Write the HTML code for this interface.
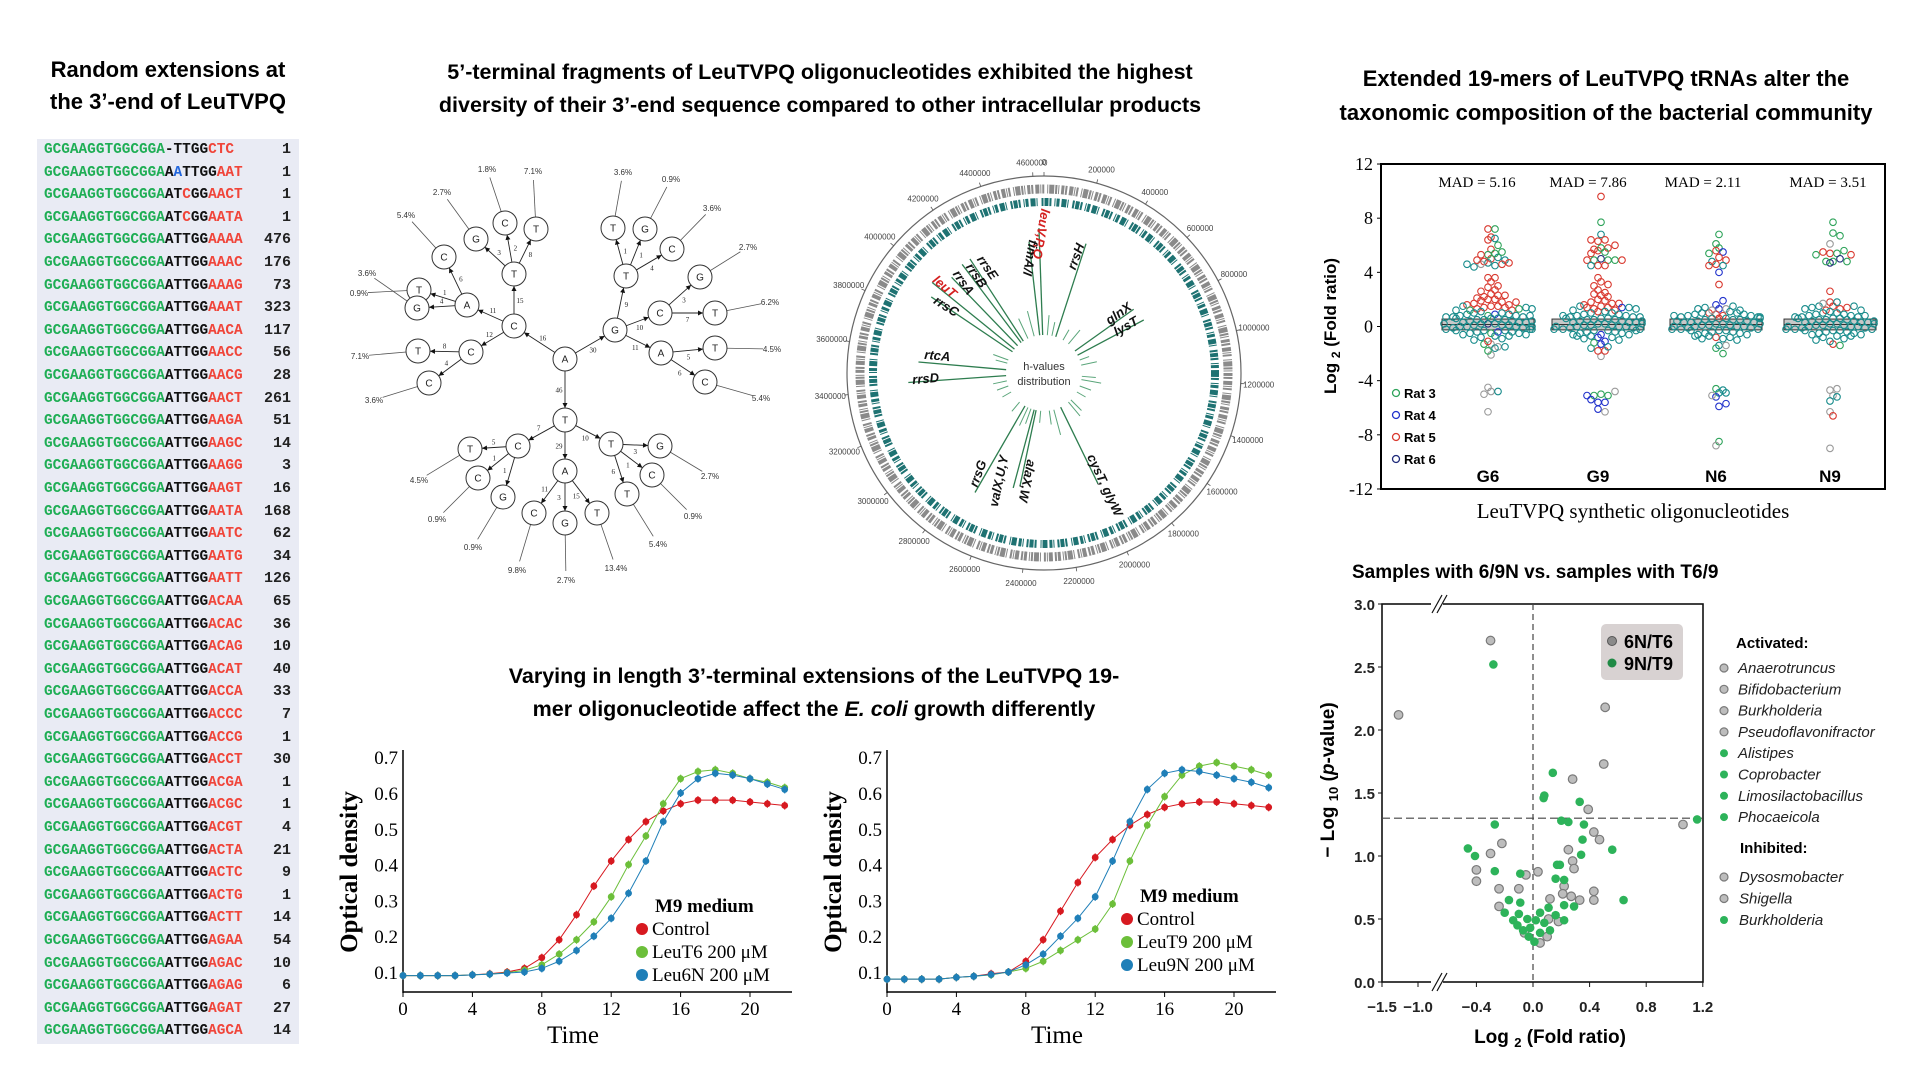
<!DOCTYPE html>
<html><head><meta charset="utf-8"><title>LeuTVPQ figure</title>
<style>
html,body{margin:0;padding:0;background:#fff;}
#root{position:relative;width:1920px;height:1080px;overflow:hidden;background:#fff;font-family:"Liberation Sans",sans-serif;}
.ttl{position:absolute;font-weight:bold;color:#000;text-align:center;white-space:nowrap;}
#seqtable{position:absolute;left:37px;top:139px;width:262px;height:905px;background:#e9ebf4;}
.row{position:absolute;left:7px;height:22px;line-height:22px;font-family:"Liberation Mono",monospace;font-weight:bold;font-size:14.4px;white-space:nowrap;}
.cnt{position:absolute;right:8px;height:22px;line-height:22px;font-family:"Liberation Mono",monospace;font-weight:bold;font-size:15px;color:#222;}
.gr{color:#1fae55}.rd{color:#f0453a}.bk{color:#111}.bl{color:#2266dd}
svg{position:absolute;left:0;top:0;}
</style></head>
<body>
<div id="root">
<div class="ttl" style="left:28px;top:54px;width:280px;font-size:22px;line-height:32px;">Random extensions at<br>the 3’-end of LeuTVPQ</div>
<div class="ttl" style="left:380px;top:56px;width:880px;font-size:21.5px;line-height:33px;">5’-terminal fragments of LeuTVPQ oligonucleotides exhibited the highest<br>diversity of their 3’-end sequence compared to other intracellular products</div>
<div class="ttl" style="left:1300px;top:62px;width:612px;font-size:22px;line-height:34px;">Extended 19-mers of LeuTVPQ tRNAs alter the<br>taxonomic composition of the bacterial community</div>
<div class="ttl" style="left:414px;top:660px;width:800px;font-size:21.5px;line-height:33px;">Varying in length 3’-terminal extensions of the LeuTVPQ 19-<br>mer oligonucleotide affect the <i>E. coli</i> growth differently</div>
<div class="ttl" style="left:1352px;top:561px;font-size:19px;line-height:24px;text-align:left;">Samples with 6/9N vs. samples with T6/9</div>
<div id="seqtable"></div>
<svg id="chart" width="1920" height="1080" viewBox="0 0 1920 1080"></svg>
</div>
<script>
// ===== Sequence table data =====
const seqSuffixes = ["AAAA","AAAC","AAAG","AAAT","AACA","AACC","AACG","AACT","AAGA","AAGC","AAGG","AAGT","AATA","AATC","AATG","AATT","ACAA","ACAC","ACAG","ACAT","ACCA","ACCC","ACCG","ACCT","ACGA","ACGC","ACGT","ACTA","ACTC","ACTG","ACTT","AGAA","AGAC","AGAG","AGAT","AGCA"];
const seqCounts = [476,176,73,323,117,56,28,261,51,14,3,16,168,62,34,126,65,36,10,40,33,7,1,30,1,1,4,21,9,1,14,54,10,6,27,14];
const specialRows = [
 '<span class="gr">GCGAAGGTGGCGGA</span><span class="bk">-TTGG</span><span class="rd">CTC</span>',
 '<span class="gr">GCGAAGGTGGCGGA</span><span class="bk">A</span><span class="bl">A</span><span class="bk">TTGG</span><span class="rd">AAT</span>',
 '<span class="gr">GCGAAGGTGGCGGA</span><span class="bk">AT</span><span class="rd">C</span><span class="bk">GG</span><span class="rd">AACT</span>',
 '<span class="gr">GCGAAGGTGGCGGA</span><span class="bk">AT</span><span class="rd">C</span><span class="bk">GG</span><span class="rd">AATA</span>'];
const specialCounts = [1,1,1,1];
(function(){
  const tb = document.getElementById('seqtable');
  const rows = specialRows.map((h,i)=>[h,specialCounts[i]]);
  seqSuffixes.forEach((s,i)=>rows.push(['<span class="gr">GCGAAGGTGGCGGA</span><span class="bk">ATTGG</span><span class="rd">'+s+'</span>', seqCounts[i]]));
  rows.forEach((r,i)=>{
    const d=document.createElement('div');
    d.className='row'; d.style.top=(i*22.6)+'px'; d.innerHTML=r[0];
    
    
    tb.appendChild(d);
    const c=document.createElement('div');
    c.className='cnt'; c.style.top=(i*22.6)+'px'; c.textContent=r[1];
    
    
    tb.appendChild(c);
  });
})();

const svg = document.getElementById('chart');
const NS = 'http://www.w3.org/2000/svg';
function mk(tag, attrs, parent){ const e=document.createElementNS(NS,tag); for(const k in attrs) e.setAttribute(k,attrs[k]); (parent||svg).appendChild(e); return e; }
function txt(x,y,s,attrs,parent){ const e=mk('text',Object.assign({x:x,y:y},attrs),parent); e.textContent=s; return e; }

// ===== Tree diagram =====
const treeLetters = ["A","G","C","T","T","A","C","G","C","T","T","G","C","T","C","T","C","A","T","G","C","G","T","T","C","C","A","T","T","C","G","C","G","T","G","C","T"];
const treeX = [565,615,514,565,514,467,471,476,505,536,419,417,444,418,429,626,660,661,613,645,672,700,715,715,705,518,565,611,470,478,503,534,565,597,660,652,627];
const treeY = [359,330,326,420,274,305,352,239,223,229,290,308,257,351,383,276,313,353,228,229,249,277,313,348,382,446,471,444,449,478,497,513,523,513,446,475,494];
const edgeFrom = [0,0,0,2,2,2,4,4,4,5,5,5,6,6,1,1,1,15,15,15,16,16,17,17,3,3,3,25,25,25,26,26,26,27,27,27];
const edgeTo   = [1,2,3,4,5,6,7,8,9,10,11,12,13,14,15,16,17,18,19,20,21,22,23,24,25,26,27,28,29,30,31,32,33,34,35,36];
const edgeCounts = [30,16,46,15,11,12,3,2,8,1,4,6,8,4,9,10,11,1,1,4,3,7,5,6,7,29,10,5,1,1,11,3,15,3,1,6];
const leafIds = [7,8,9,12,10,11,13,14,18,19,20,21,22,23,24,28,29,30,31,32,33,36,35,34];
const leafPct = ["2.7%","1.8%","7.1%","5.4%","0.9%","3.6%","7.1%","3.6%","3.6%","0.9%","3.6%","2.7%","6.2%","4.5%","5.4%","4.5%","0.9%","0.9%","9.8%","2.7%","13.4%","5.4%","0.9%","2.7%"];
const leafLX = [442,487,533,406,359,367,360,374,623,671,712,748,770,772,761,419,437,473,517,566,616,658,693,710];
const leafLY = [192,169,171,215,293,273,356,400,172,179,208,247,302,349,398,480,519,547,570,580,568,544,516,476];
(function(){
  const g=mk('g',{});
  
  
  leafIds.forEach((id,i)=>{
    const x0=treeX[id], y0=treeY[id], dx=leafLX[i]-x0, dy=leafLY[i]-y0, L=Math.hypot(dx,dy);
    const f=(L-9)/L;
    const ln=mk('line',{x1:x0,y1:y0,x2:x0+dx*f,y2:y0+dy*f,stroke:'#555','stroke-width':0.8},g);
    
    const t=txt(leafLX[i],leafLY[i]+3,leafPct[i],{'font-size':8,'text-anchor':'middle',fill:'#333'},g);
    
  });
  edgeFrom.forEach((a,i)=>{
    const b=edgeTo[i]; const x1=treeX[a],y1=treeY[a],x2=treeX[b],y2=treeY[b];
    const L=Math.hypot(x2-x1,y2-y1), ux=(x2-x1)/L, uy=(y2-y1)/L;
    const ex=x2-ux*12, ey=y2-uy*12;
    const e=mk('line',{x1:x1+ux*12,y1:y1+uy*12,x2:ex,y2:ey,stroke:'#222','stroke-width':0.9},g);
    
    const ah=mk('polygon',{points:`${ex},${ey} ${ex-ux*5-uy*2.5},${ey-uy*5+ux*2.5} ${ex-ux*5+uy*2.5},${ey-uy*5-ux*2.5}`,fill:'#111'},g);
    
    const lb=txt((x1+x2)/2-uy*6,(y1+y2)/2+ux*6+3,String(edgeCounts[i]),{'font-size':7,'text-anchor':'middle',fill:'#222','font-family':'Liberation Serif, serif'},g);
    
  });
  treeLetters.forEach((l,i)=>{
    const c=mk('circle',{cx:treeX[i],cy:treeY[i],r:12,fill:'#fff',stroke:'#333','stroke-width':1},g);
    
    const t=txt(treeX[i],treeY[i]+3.5,l,{'font-size':10,'text-anchor':'middle',fill:'#222'},g);
    
  });
})();

// ===== Circular genome plot =====
const genomeTicks = [0,200000,400000,600000,800000,1000000,1200000,1400000,1600000,1800000,2000000,2200000,2400000,2600000,2800000,3000000,3200000,3400000,3600000,3800000,4000000,4200000,4400000,4600000];
const geneNames = ["leuV,P,Q","fimA/I","rrsH","rrsE","rrsB","rrsA","leuT","rrsC","glnX","lysT","rtcA","rrsD","rrsG","valX,U,Y","alaX,W","cysT, glyW"];
const geneAngle = [358,353.5,18,327,323,316,309,304,54.6,62,275,266,210,195,192,154];
const geneLen = [107,94,98,98,98,95,106,98,72,75,88,98,100,81,78,85];
const geneLabelX = [1037,1026,1080,984,973,960,942,944,1121,1128,937,926,982,1003,1023,1101];
const geneLabelY = [233,257,258,270,278,285,290,310,317,330,360,383,475,482,480,487];
const geneLabelRot = [100,100,-70,55,55,55,40,33,-35,-30,5,-5,-70,-78,102,65];
const geneRed = [1,0,0,0,0,0,1,0,0,0,0,0,0,0,0,0];
const minorAngles = [5,12,30,40,70,78,95,100,110,120,135,140,165,172,185,200,205,220,240,250,258,285,290,335,345];
const minorLens = [20,14,12,18,10,16,14,20,12,10,15,18,26,14,12,16,20,12,10,12,14,12,16,22,26];
(function(){
  const cx=1044, cy=373, R=197, G=4641652;
  const g=mk('g',{});
  
  
  const oc=mk('circle',{cx:cx,cy:cy,r:R,fill:'none',stroke:'#666','stroke-width':1.2},g);
  
  const gr=mk('circle',{cx:cx,cy:cy,r:184,fill:'none',stroke:'#8a8a8a','stroke-width':9,'stroke-dasharray':'3 1 2 2 4 1 1 1 2 3 1 1 5 1 2 1 1 2'},g);
  
  const tr=mk('circle',{cx:cx,cy:cy,r:171,fill:'none',stroke:'#1e7272','stroke-width':8,'stroke-dasharray':'4 1 2 3 1 1 3 2 5 1 1 4 2 1'},g);
  
  genomeTicks.forEach(v=>{
    const a=v/G*2*Math.PI, s=Math.sin(a), c=-Math.cos(a);
    const tk=mk('line',{x1:cx+s*R,y1:cy+c*R,x2:cx+s*(R+4),y2:cy+c*(R+4),stroke:'#555','stroke-width':0.8},g);
    
    const t=txt(cx+s*(R+18),cy+c*(R+14)+3,String(v),{'font-size':8,'text-anchor':'middle',fill:'#444'},g);
    
  });
  minorAngles.forEach((d,i)=>{
    const a=d*Math.PI/180, s=Math.sin(a), c=-Math.cos(a);
    const l=mk('line',{x1:cx+s*38,y1:cy+c*38,x2:cx+s*(38+minorLens[i]),y2:cy+c*(38+minorLens[i]),stroke:'#5aa57a','stroke-width':1},g);
    
  });
  geneAngle.forEach((d,i)=>{
    const a=d*Math.PI/180, s=Math.sin(a), c=-Math.cos(a);
    const l=mk('line',{x1:cx+s*38,y1:cy+c*38,x2:cx+s*(38+geneLen[i]),y2:cy+c*(38+geneLen[i]),stroke:'#2e7d4f','stroke-width':1.3},g);
    
    const t=txt(geneLabelX[i],geneLabelY[i],geneNames[i],{'font-size':13,'font-style':'italic','font-weight':'bold','text-anchor':'middle',fill:geneRed[i]?'#d42020':'#111',transform:`rotate(${geneLabelRot[i]} ${geneLabelX[i]} ${geneLabelY[i]})`},g);
    
  });
  const h1=txt(cx,cy-3,'h-values',{'font-size':11,'text-anchor':'middle',fill:'#333'},g);
  
  const h2=txt(cx,cy+12,'distribution',{'font-size':11,'text-anchor':'middle',fill:'#333'},g);
  
})();

// ===== Growth curves =====
const hours = [0,1,2,3,4,5,6,7,8,9,10,11,12,13,14,15,16,17,18,19,20,21,22];
const ctrl1 = [0.09,0.09,0.09,0.09,0.092,0.095,0.10,0.11,0.14,0.19,0.26,0.34,0.41,0.47,0.52,0.55,0.57,0.58,0.58,0.58,0.575,0.57,0.565];
const leuT6 = [0.09,0.09,0.09,0.09,0.092,0.094,0.098,0.105,0.12,0.15,0.19,0.24,0.31,0.40,0.48,0.57,0.64,0.66,0.665,0.655,0.64,0.63,0.615];
const leu6N = [0.09,0.09,0.09,0.09,0.092,0.094,0.097,0.10,0.11,0.13,0.16,0.20,0.25,0.32,0.41,0.52,0.60,0.64,0.655,0.65,0.64,0.625,0.61];
const ctrl2 = [0.08,0.08,0.08,0.08,0.085,0.088,0.095,0.10,0.13,0.19,0.27,0.35,0.42,0.47,0.51,0.54,0.56,0.57,0.575,0.575,0.57,0.565,0.56];
const leuT9 = [0.08,0.08,0.08,0.08,0.085,0.088,0.092,0.10,0.11,0.13,0.16,0.19,0.22,0.29,0.41,0.51,0.59,0.65,0.675,0.685,0.675,0.665,0.65];
const leu9N = [0.08,0.08,0.08,0.08,0.085,0.088,0.093,0.10,0.12,0.15,0.20,0.25,0.31,0.41,0.52,0.61,0.655,0.665,0.66,0.65,0.64,0.63,0.615];
const odTicks = [0.1,0.2,0.3,0.4,0.5,0.6,0.7];
const timeTicks = [0,4,8,12,16,20];
function growthChart(x0, series, colors, names, legX, legY, tag){
  const g=mk('g',{});
  
  
  const sx=h=>x0+h*17.35, sy=v=>972-(v-0.1)*358;
  const ya=mk('line',{x1:x0,y1:750,x2:x0,y2:993,stroke:'#000','stroke-width':1.5},g);
  
  const xa=mk('line',{x1:x0,y1:992,x2:x0+389,y2:992,stroke:'#000','stroke-width':1.5},g);
  
  odTicks.forEach(v=>{
    const t=txt(x0-5,sy(v)+7,v.toFixed(1),{'font-size':19,'text-anchor':'end','font-family':'Liberation Serif, serif'},g);
    
  });
  timeTicks.forEach(h=>{
    const tk=mk('line',{x1:sx(h),y1:992,x2:sx(h),y2:997,stroke:'#000'},g);
    
    const t=txt(sx(h),1015,String(h),{'font-size':19,'text-anchor':'middle','font-family':'Liberation Serif, serif'},g);
    
  });
  const yl=txt(0,0,'Optical density',{'font-size':25,'font-weight':'bold','text-anchor':'middle','font-family':'Liberation Serif, serif',transform:`translate(${x0-46},872) rotate(-90)`},g);
  
  const xl=txt(x0+170,1043,'Time',{'font-size':25,'text-anchor':'middle','font-family':'Liberation Serif, serif'},g);
  
  series.forEach((s,k)=>{
    const pl=mk('polyline',{points:s.map((v,i)=>sx(hours[i])+','+sy(v)).join(' '),fill:'none',stroke:colors[k],'stroke-width':1},g);
    
    s.forEach((v,i)=>{
      const eb=mk('line',{x1:sx(hours[i]),y1:sy(v)-4,x2:sx(hours[i]),y2:sy(v)+4,stroke:colors[k],'stroke-width':1.2},g);
      
      const c=mk('circle',{cx:sx(hours[i]),cy:sy(v),r:3.4,fill:colors[k]},g);
      
    });
  });
  const lt=txt(legX+13,legY,'M9 medium',{'font-size':19,'font-weight':'bold','font-family':'Liberation Serif, serif'},g);
  
  names.forEach((n,k)=>{
    const y=legY+23*(k+1);
    const c=mk('circle',{cx:legX,cy:y-6,r:6,fill:colors[k]},g);
    
    const t=txt(legX+10,y,n,{'font-size':19,'font-family':'Liberation Serif, serif'},g);
    
  });
}
growthChart(403,[ctrl1,leuT6,leu6N],['#d71920','#6cbf3a','#1f7fb8'],['Control','LeuT6 200 μM','Leu6N 200 μM'],642,912,'growth-chart-6');
growthChart(887,[ctrl2,leuT9,leu9N],['#d71920','#6cbf3a','#1f7fb8'],['Control','LeuT9 200 μM','Leu9N 200 μM'],1127,902,'growth-chart-9');

// ===== Fold-ratio scatter =====
const groupNames = ["G6","G9","N6","N9"];
const madLabels = ["MAD = 5.16","MAD = 7.86","MAD = 2.11","MAD = 3.51"];
const foldTicks = [12,8,4,0,-4,-8,-12];
const coreValues = [1.5,1.4,1.2,1.1,1.0,1.0,0.9,0.9,0.8,0.8,0.7,0.7,0.6,0.6,0.5,0.5,0.5,0.4,0.4,0.3,0.3,0.3,0.2,0.2,0.1,0.1,0.1,0.0,0.0,0.0,-0.1,-0.1,-0.2,-0.2,-0.3,-0.3,-0.4,-0.4,-0.5,-0.5,-0.6,-0.6,-0.7,-0.8,-0.9,-1.0,1.3,0.6,-0.7,0.0,0.4,0.8,-0.3,0.2,-0.2,0.7];
const g6Values = [5.7,7.2,7.2,6.6,6.4,6.0,6.5,5.0,5.1,5.3,5.4,5.3,4.7,4.5,4.8,4.6,4.9,4.6,4.4,4.7,4.6,5.5,4.9,3.6,3.6,3.3,3.0,2.9,2.7,2.6,2.4,2.3,2.2,2.3,2.1,2.0,2.0,1.9,1.8,1.7,1.6,1.5,1.5,1.4,1.4,1.3,1.2,1.6,1.8,1.2,0.8,-0.5,1.3,0.9,-0.4,0.2,-1.3,-2.1,-1.5,-1.8,-1.3,-1.1,-1.5,-1.6,-4.8,-4.8,-5.0,-4.5,-6.3];
const g6Rats   = "rrgrrgtrtggrttrktrtrtgrrrrrrrrrrrrrrrrrrrrrrrrrrrggggbbnkkkggrttktkkk";
const g9Values = [9.6,7.7,6.8,6.3,5.6,5.8,5.8,6.4,6.4,5.7,5.5,6.0,5.4,5.0,4.9,4.9,4.9,4.9,4.5,4.5,4.5,4.9,3.6,3.3,3.1,3.0,2.7,2.5,2.3,2.2,2.0,1.9,1.8,1.7,1.6,1.5,1.4,1.3,1.2,1.7,2.4,1.4,1.1,-0.8,-1.1,-1.3,-0.6,1.4,-2.2,-1.8,-1.8,-1.5,-1.6,-1.2,-5.0,-5.1,-5.1,-4.8,-5.1,-5.6,-6.1,-5.6,-5.4,-6.3];
const g9Rats   = "rgtrrgrrrrgrrngggrrrtrrrrrrrrrrrrrrrrrrrrrrbbbbbkrrttggggkbbbbbk";
const n6Values = [6.8,5.8,6.1,5.6,5.5,5.1,4.9,5.4,4.8,4.6,4.5,4.0,4.5,3.1,1.6,1.9,1.3,0.9,0.6,0.8,1.0,1.3,1.2,-0.8,-1.6,-1.4,-1.4,-2.0,-0.9,-4.6,-4.9,-4.9,-5.2,-5.9,-5.7,-5.1,-8.5,-8.8,-4.7];
const n6Rats   = "gggrbrrgtrtbrrbbbrrrrkkrgtkgtgttbbbkgkt";
const n9Values = [7.7,6.9,6.1,6.7,5.4,5.4,4.8,4.7,5.0,4.8,5.5,5.6,4.8,5.3,5.3,2.6,1.8,1.5,1.3,1.2,1.4,1.8,1.5,1.7,-1.3,-1.4,-1.1,-4.7,-5.1,-5.5,-5.2,-4.6,-6.3,-6.6,-9.0];
const n9Rats   = "ggkgrggnngrgggrrrrrrrttkrgtkkttkkrk";
(function(){
  const X0=1381,X1=1885,Y0=164,Y1=489;
  const sy=v=>326.5-v*13.54;
  const centers=[1488,1598,1716,1830];
  const col={r:'#d9392f',g:'#2ea35a',b:'#2233cc',n:'#1e2a7a',k:'#9a9a9a',t:'#178b8b'};
  const g=mk('g',{});
  
  
  const fr=mk('rect',{x:X0,y:Y0,width:X1-X0,height:Y1-Y0,fill:'#fff',stroke:'#000','stroke-width':2},g);
  
  foldTicks.forEach(v=>{
    const t=txt(X0-8,sy(v)+6,String(v),{'font-size':18,'text-anchor':'end','font-family':'Liberation Serif, serif'},g);
    
    const tk=mk('line',{x1:X0-4,y1:sy(v),x2:X0,y2:sy(v),stroke:'#000'},g);
    
  });
  const yl=txt(0,0,'Log',{'font-size':17,'font-weight':'bold','text-anchor':'middle',transform:'translate(1336,326) rotate(-90)'},g);
  yl.textContent='';
  const ts1=mk('tspan',{},yl); ts1.textContent='Log ';
  const ts2=mk('tspan',{'font-size':12,dy:4},yl); ts2.textContent='2';
  const ts3=mk('tspan',{dy:-4},yl); ts3.textContent=' (Fold ratio)';
  
  const xl=txt(1633,518,'LeuTVPQ synthetic oligonucleotides',{'font-size':21,'text-anchor':'middle','font-family':'Liberation Serif, serif'},g);
  
  const vals=[g6Values,g9Values,n6Values,n9Values], rats=[g6Rats,g9Rats,n6Rats,n9Rats];
  centers.forEach((cx,gi)=>{
    const bx=mk('rect',{x:cx-46,y:sy(0.55),width:92,height:sy(-0.25)-sy(0.55),fill:'#c8c8c8',stroke:'#333','stroke-width':1},g);
    
    const md=mk('line',{x1:cx-46,y1:sy(0.15),x2:cx+46,y2:sy(0.15),stroke:'#333'},g);
    
    const pts=[];
    vals[gi].forEach((v,i)=>pts.push([v,rats[gi][i]]));
    coreValues.forEach(v=>pts.push([v,'t']));
    const bins={};
    pts.forEach(p=>{
      const b=Math.round(p[0]/0.45); bins[b]=(bins[b]||0)+1; const k=bins[b]-1;
      const off=(k%2?1:-1)*Math.ceil(k/2)*7 + (b%2?3:0);
      const c=mk('circle',{cx:cx+Math.max(-44,Math.min(44,off)),cy:sy(p[0]),r:3.3,fill:'none',stroke:col[p[1]],'stroke-width':1.1},g);
      
    });
    const ml=txt(madLabels[gi]?[1477,1588,1703,1828][gi]:cx,187,madLabels[gi],{'font-size':15,'text-anchor':'middle','font-family':'Liberation Serif, serif'},g);
    
    const cl=txt(cx,482,groupNames[gi],{'font-size':17,'font-weight':'bold','text-anchor':'middle'},g);
    
  });
  ['Rat 3','Rat 4','Rat 5','Rat 6'].forEach((n,i)=>{
    const y=393+i*22;
    const c=mk('circle',{cx:1396,cy:y,r:3.5,fill:'none',stroke:[col.g,col.b,col.r,col.n][i],'stroke-width':1.3},g);
    
    const t=txt(1404,y+5,n,{'font-size':13,'font-weight':'bold'},g);
    
  });
})();

// ===== Volcano plot =====
const grayFC = [-0.30,-1.27,0.51,0.50,0.28,0.39,0.43,0.47,1.06,-0.22,-0.30,-0.40,-0.40,0.25,0.28,0.29,0.035,-0.05,-0.24,-0.10,0.22,0.21,0.43,0.43,0.33,0.27,0.12,-0.24,0.11,0.18,0.10,-0.06,0.05];
const grayP  = [2.71,2.12,2.18,1.73,1.61,1.37,1.19,1.13,1.25,1.10,1.02,0.89,0.80,1.05,0.96,0.90,0.875,0.85,0.74,0.74,0.76,0.70,0.72,0.65,0.65,0.68,0.66,0.60,0.50,0.48,0.36,0.39,0.31];
const greenFC = [-0.28,0.14,0.075,0.08,0.33,-0.27,0.20,0.25,0.36,1.16,0.35,-0.46,-0.41,0.56,0.34,-0.27,-0.09,0.17,0.19,0.16,0.22,0.64,0.29,0.22,-0.17,-0.09,-0.20,-0.10,0.05,0.11,0.16,0.22,-0.11,-0.07,-0.03,0.01,0.05,0.08,0.12,-0.02,0.02,-0.14,-0.04];
const greenP  = [2.52,1.66,1.46,1.48,1.43,1.25,1.28,1.27,1.25,1.29,1.13,1.06,1.00,1.05,1.01,0.88,0.86,0.93,0.93,0.82,0.81,0.65,0.60,0.61,0.65,0.63,0.55,0.54,0.55,0.59,0.53,0.49,0.45,0.41,0.36,0.32,0.39,0.47,0.41,0.43,0.49,0.49,0.50];
const volXTicks = [-1.5,-1.0,-0.4,0.0,0.4,0.8,1.2];
const volYTicks = [0.0,0.5,1.0,1.5,2.0,2.5,3.0];
const activatedNames = ["Anaerotruncus","Bifidobacterium","Burkholderia","Pseudoflavonifractor","Alistipes","Coprobacter","Limosilactobacillus","Phocaeicola"];
const activatedGroup = ["g","g","g","g","n","n","n","n"];
const inhibitedNames = ["Dysosmobacter","Shigella","Burkholderia"];
const inhibitedGroup = ["g","g","n"];
(function(){
  const X0=1382,X1=1703,Y0=604,Y1=982;
  const sx=v=> v<=-0.7 ? 1382+(v+1.5)*72 : 1533+v*141.5;
  const sy=v=> 982-v*126;
  const g=mk('g',{});
  
  
  const fr=mk('rect',{x:X0,y:Y0,width:X1-X0,height:Y1-Y0,fill:'#fff',stroke:'#111','stroke-width':1.6},g);
  
  [Y0,Y1].forEach(y=>{
    const wb=mk('rect',{x:1431,y:y-3,width:12,height:6,fill:'#fff'},g);
    
    [0,5].forEach(o=>{
      const b=mk('line',{x1:1432+o,y1:y+9,x2:1442+o,y2:y-9,stroke:'#111','stroke-width':1.2},g);
      
    });
  });
  volYTicks.forEach(v=>{
    const tk=mk('line',{x1:X0-4,y1:sy(v),x2:X0,y2:sy(v),stroke:'#111'},g);
    
    const t=txt(X0-7,sy(v)+6,v.toFixed(1),{'font-size':15,'font-weight':'bold','text-anchor':'end',fill:'#222'},g);
    
  });
  volXTicks.forEach(v=>{
    const tk=mk('line',{x1:sx(v),y1:Y1,x2:sx(v),y2:Y1+5,stroke:'#111'},g);
    
    const t=txt(sx(v),1012,v===0?'0.0':(v<0?'−':'')+Math.abs(v).toFixed(1),{'font-size':15,'font-weight':'bold','text-anchor':'middle',fill:'#222'},g);
    
  });
  const vl=mk('line',{x1:sx(0),y1:Y0,x2:sx(0),y2:Y1,stroke:'#444','stroke-dasharray':'6 4','stroke-width':1.2},g);
  
  const hl=mk('line',{x1:X0,y1:sy(1.3),x2:X1,y2:sy(1.3),stroke:'#444','stroke-dasharray':'8 4','stroke-width':1.2},g);
  
  grayFC.forEach((v,i)=>{
    const c=mk('circle',{cx:sx(v),cy:sy(grayP[i]),r:4.3,fill:'#bdbdbd',stroke:'#7a7a7a','stroke-width':1.2},g);
    
  });
  greenFC.forEach((v,i)=>{
    const c=mk('circle',{cx:sx(v),cy:sy(greenP[i]),r:4.3,fill:'#2db35a'},g);
    
  });
  const lb=mk('rect',{x:1601,y:624,width:82,height:56,rx:5,fill:'#d8d2d2'},g);
  
  const l1=mk('circle',{cx:1612,cy:641,r:4.5,fill:'#8a8a8a',stroke:'#555'},g);
  
  const t1=txt(1624,648,'6N/T6',{'font-size':18,'font-weight':'bold'},g);
  
  const l2=mk('circle',{cx:1612,cy:663,r:4.5,fill:'#1f8a45'},g);
  
  const t2=txt(1624,670,'9N/T9',{'font-size':18,'font-weight':'bold'},g);
  
  const yl=txt(0,0,'',{'font-size':19,'font-weight':'bold','text-anchor':'middle',transform:'translate(1334,780) rotate(-90)'},g);
  const a1=mk('tspan',{},yl); a1.textContent='− Log ';
  const a2=mk('tspan',{'font-size':13,dy:4},yl); a2.textContent='10';
  const a3=mk('tspan',{dy:-4},yl); a3.textContent=' (';
  const a4=mk('tspan',{'font-style':'italic'},yl); a4.textContent='p';
  const a5=mk('tspan',{},yl); a5.textContent='-value)';
  
  const xl=txt(1550,1043,'',{'font-size':19,'font-weight':'bold','text-anchor':'middle'},g);
  const b1=mk('tspan',{},xl); b1.textContent='Log ';
  const b2=mk('tspan',{'font-size':13,dy:4},xl); b2.textContent='2';
  const b3=mk('tspan',{dy:-4},xl); b3.textContent=' (Fold ratio)';
  
  const ah=txt(1736,648,'Activated:',{'font-size':15,'font-weight':'bold'},g);
  
  activatedNames.forEach((n,i)=>{
    const y=668+i*21.3;
    const c=mk('circle',{cx:1724,cy:y,r:4,fill:activatedGroup[i]==='g'?'#bdbdbd':'#2db35a',stroke:activatedGroup[i]==='g'?'#7a7a7a':'none','stroke-width':1.2},g);
    
    const t=txt(1738,y+5,n,{'font-size':15,'font-style':'italic',fill:'#222'},g);
    
  });
  const ih=txt(1740,853,'Inhibited:',{'font-size':15,'font-weight':'bold'},g);
  
  inhibitedNames.forEach((n,i)=>{
    const y=877+i*21.5;
    const c=mk('circle',{cx:1724,cy:y,r:4,fill:inhibitedGroup[i]==='g'?'#bdbdbd':'#2db35a',stroke:inhibitedGroup[i]==='g'?'#7a7a7a':'none','stroke-width':1.2},g);
    
    const t=txt(1739,y+5,n,{'font-size':15,'font-style':'italic',fill:'#222'},g);
    
  });
})();
</script>
</body></html>
